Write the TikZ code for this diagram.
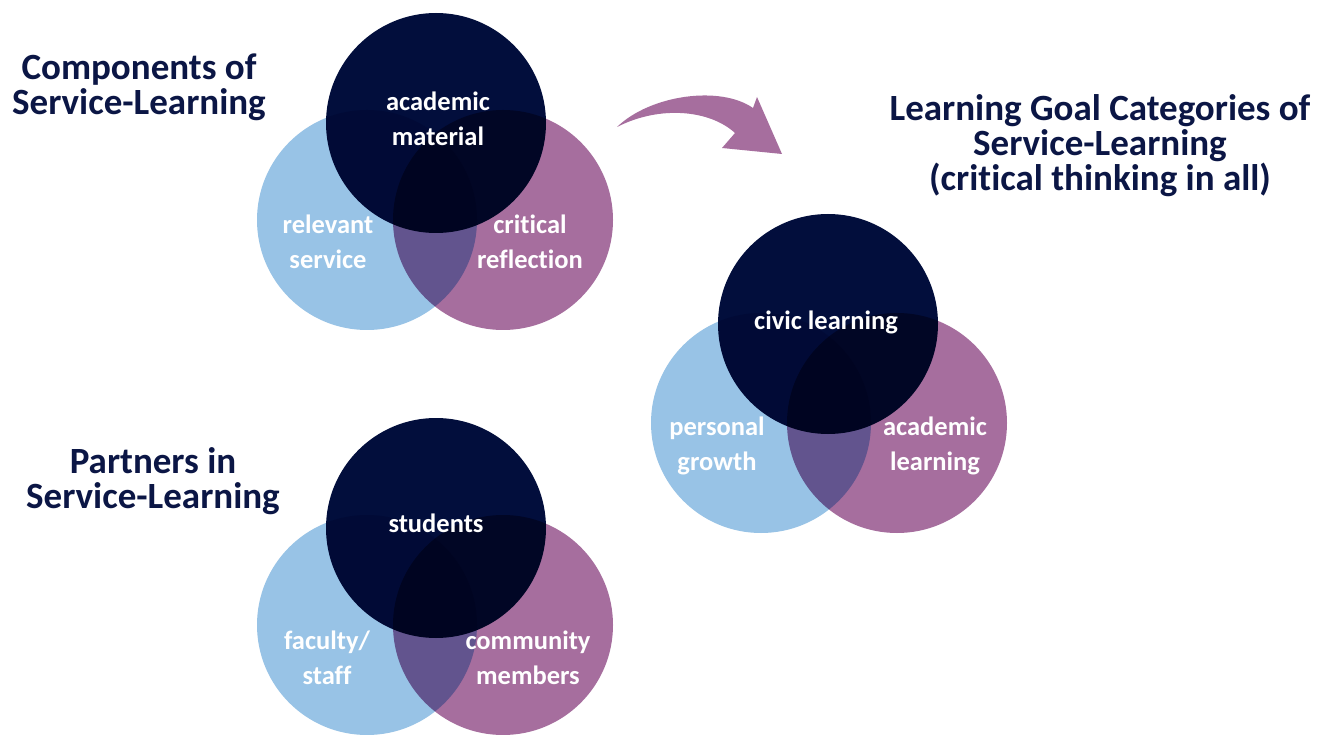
\documentclass[tikz,border=0pt]{standalone}
\usepackage{fontspec}
\setmainfont[Ligatures=NoCommon]{Carlito}
\definecolor{navy}{HTML}{020E3C}
\definecolor{titlenavy}{HTML}{0B1645}
\definecolor{lightblue}{HTML}{98C3E6}
\definecolor{plum}{HTML}{A66E9E}
\tikzset{
  blue circ/.style={fill=lightblue, draw=none},
  plum circ/.style={fill=plum, draw=none},
  navy circ/.style={fill=navy, draw=none},
  title/.style={text=titlenavy, font=\fontsize{37}{35}\selectfont\bfseries, align=center, inner sep=0pt},
  lbl/.style={text=white, font=\fontsize{26.5}{35}\selectfont\bfseries, align=center, inner sep=0pt},
}
\begin{document}
\begin{tikzpicture}[x=1pt,y=-1pt]
\useasboundingbox (0,0) rectangle (1331,735);
\fill[white] (0,0) rectangle (1331,735);

% Group 1
\begin{scope}[blend group=multiply]
  \fill[blue circ] (367,220) circle (110);
  \fill[plum circ] (503,220) circle (110);
  \fill[navy circ] (436,123) circle (110);
\end{scope}
% Group 2
\begin{scope}[blend group=multiply]
  \fill[blue circ] (761,423) circle (110);
  \fill[plum circ] (897,423) circle (110);
  \fill[navy circ] (828,324) circle (110);
\end{scope}
% Group 3
\begin{scope}[blend group=multiply]
  \fill[blue circ] (367,625) circle (110);
  \fill[plum circ] (503,625) circle (110);
  \fill[navy circ] (436,528) circle (110);
\end{scope}

% Arrow
\fill[plum] (617,127) .. controls (650,95) and (720,85) .. (753,108)
  -- (757,97) -- (782,154) -- (722,148) -- (735,133)
  .. controls (710,110) and (660,105) .. (617,127) -- cycle;

% Titles
\node[title] (t1) at (139,87) {Components of\\Service-Learning};
\node[title] (t2) at (153,481) {Partners in\\Service-Learning};
\node[title] (t3) at (1100,146) {Learning Goal Categories of\\Service-Learning\\(critical thinking in all)};

% Labels group 1
\node[lbl] (a1) at (438,119) {academic\\material};
\node[lbl] (a2) at (328,242) {relevant\\service};
\node[lbl] (a3) at (530,242) {critical\\reflection};
% Labels group 2
\node[lbl] (b1) at (826,322) {civic learning};
\node[lbl] (b2) at (717,446) {personal\\growth};
\node[lbl] (b3) at (935,446) {academic\\learning};
% Labels group 3
\node[lbl] (c1) at (436,523) {students};
\node[lbl] (c2) at (327,658) {faculty/\\staff};
\node[lbl] (c3) at (528,658) {community\\members};
\end{tikzpicture}
\end{document}
